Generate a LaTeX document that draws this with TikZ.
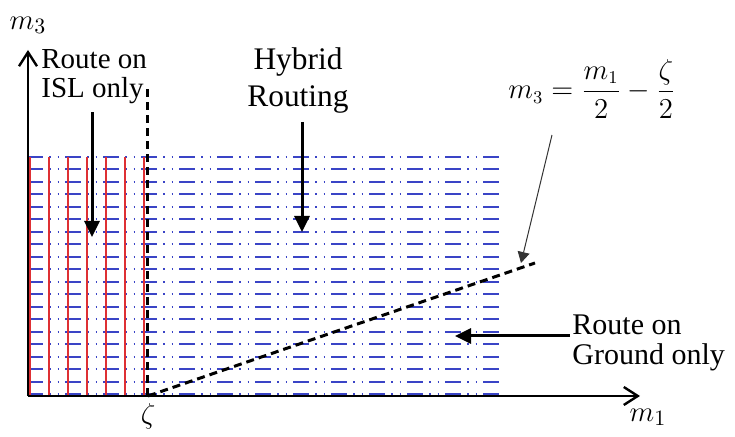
\documentclass[tikz,border=0pt]{standalone}
\usepackage{amsmath}
\usepackage{fontspec}
\setmainfont{Liberation Serif}
\newfontfamily\timesfont{Liberation Serif}
\usetikzlibrary{arrows.meta, positioning, calc}
\definecolor{hybridblue}{RGB}{58,68,198}
\definecolor{islred}{RGB}{222,48,52}
\tikzset{
    axis/.style={line width=1.4pt, black, -{Straight Barb[length=7pt, width=9pt, line width=1.2pt]}},
    gridline/.style={hybridblue, line width=1pt, dash pattern=on 8pt off 3.2pt on 0.9pt off 3.2pt on 0.9pt off 2.8pt},
    islline/.style={islred, line width=1.1pt},
    boundary/.style={black, line width=1.5pt, dash pattern=on 4pt off 2.5pt},
    arrow/.style={-{Triangle[length=8pt, width=7.5pt]}, line width=1.5pt, black},
    thinarrow/.style={-{Triangle[length=5.5pt, width=6pt]}, line width=0.5pt, black!80},
}

\begin{document}
\begin{tikzpicture}[
    x=0.5pt, y=0.5pt,
    lbl/.style={inner sep=0pt, align=left, font=\timesfont\fontsize{#1}{#1}\selectfont},
    axlbl/.style={inner sep=0pt, font=\fontsize{15}{15}\selectfont}
]
\useasboundingbox (0,0) rectangle (735,437);

% Key points
\coordinate (origin) at (28,41);
\coordinate (x-end) at (640,41);
\coordinate (y-end) at (28,387);
\coordinate (zeta-pt) at (147,41);
\coordinate (slope-end) at (535,174);
\coordinate (isl-tip) at (92,200);
\coordinate (hybrid-tip) at (302,205);
\coordinate (ground-tip) at (455,101);

% Hybrid routing region (blue)
\foreach \k in {0,...,19}
    \draw[gridline] (27,{42.5+12.5*\k}) -- (499,{42.5+12.5*\k});

% ISL only region (red)
\foreach \i in {0,...,6}
    \draw[islline] ({30+19*\i},41) -- ({30+19*\i},280);

% Boundaries
\draw[boundary] (zeta-pt) -- (147,349);
\draw[boundary] (148,41) -- (slope-end);

% Axes
\draw[axis] (origin) -- (x-end);
\draw[axis] (origin) -- (y-end);
\node[axlbl] (m3-label) at (28,412) {$m_3$};
\node[axlbl] (m1-label) at (648,20) {$m_1$};
\node[axlbl] (zeta-label) at (148,21) {$\zeta$};

% Region labels
\node[lbl=14.5, anchor=north west] (isl-text) at (41,388) {Route on\\[0pt]ISL only};
\node[lbl=15.7, align=center, anchor=north] (hybrid-text) at (298,390) {Hybrid\\[3pt]Routing};
\node[lbl=15, anchor=north west] (ground-text) at (572,123) {Route on\\[0pt]Ground only};
\node[anchor=west, inner sep=0pt, font=\fontsize{13.5}{13.5}\selectfont] (formula) at (508,348) {$m_{3} = \dfrac{m_{1}}{2} - \dfrac{\zeta}{2}$};

% Arrows
\draw[arrow] ([yshift=-4pt]isl-text.south -| isl-tip) -- (isl-tip);
\draw[arrow] ([yshift=-4pt]hybrid-text.south -| hybrid-tip) -- (hybrid-tip);
\draw[arrow] ([xshift=-1pt]ground-text.west |- ground-tip) -- (ground-tip);
\draw[thinarrow] ([xshift=22pt, yshift=-8pt]formula.south west) -- ([xshift=-7pt]slope-end);

\end{tikzpicture}
\end{document}
